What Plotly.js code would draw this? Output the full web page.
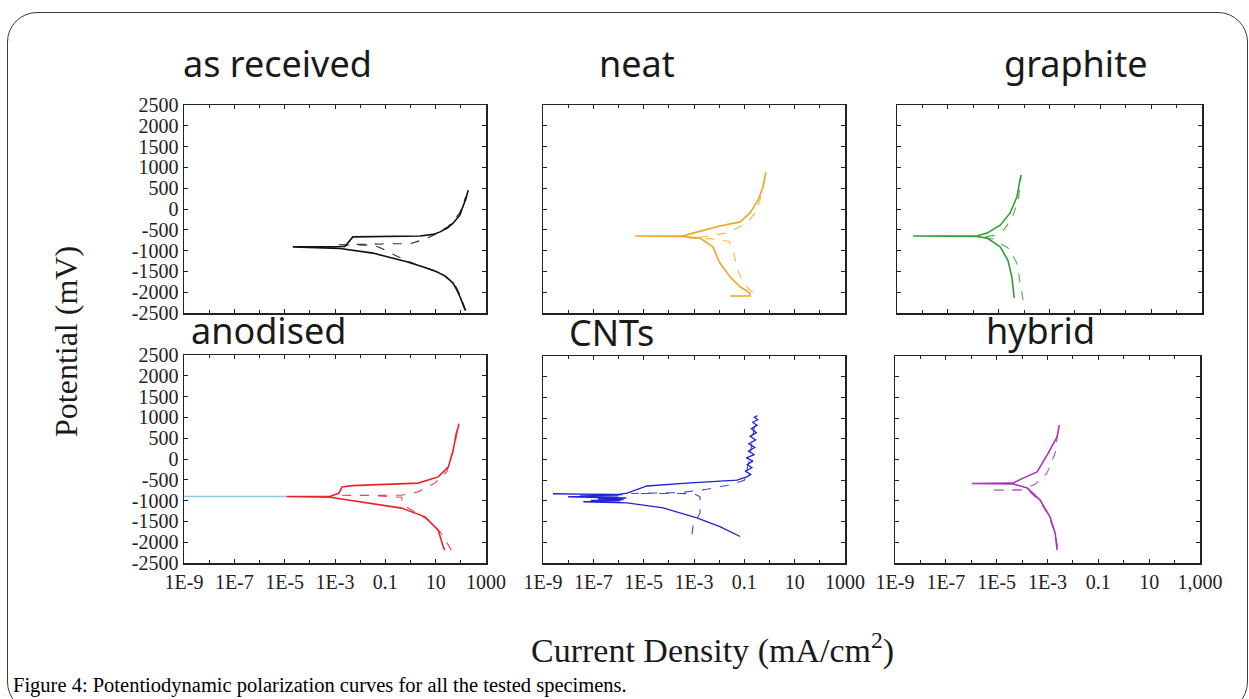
<!DOCTYPE html>
<html>
<head>
<meta charset="utf-8">
<script src="https://cdn.plot.ly/plotly-3.0.1.min.js"></script>
<style>
  html, body { margin: 0; padding: 0; background: #ffffff; overflow: hidden; }
  #frame { position: absolute; left: 7px; top: 12px; width: 1241px; height: 700px;
           box-sizing: border-box; border: 1.5px solid #3a3a3a; border-radius: 30px; }
  #chart { position: absolute; left: 0; top: 0; width: 1249px; height: 699px; }
</style>
</head>
<body>
<div id="frame"></div>
<div id="chart"></div>
<script>
// ---------------- data (current density in mA/cm^2, potential in mV) ----------------
const panelNames = ["as received", "neat", "graphite", "anodised", "CNTs", "hybrid"];
const panelColors = ["#111111", "#f4a32a", "#2f9e35", "#e8242a", "#1f22d8", "#a834b8"];

// as received
const asrecSolidX = [148, 120, 93, 70, 49, 25, 11, 3.5, 0.72, 0.032, 1.6e-3, 2.1e-5, 8e-4, 2.5e-3, 5.1e-3, 2.4, 8, 15, 30, 49, 90, 123, 160, 195];
const asrecSolidY = [-2430, -2280, -2110, -1950, -1780, -1620, -1510, -1400, -1270, -1060, -950, -910, -900, -900, -670, -650, -610, -550, -450, -340, -150, 50, 250, 450];
const asrecDashX = [158, 100, 56, 14, 1.6, 0.32, 0.063, 0.032, 1e-3, 0.032, 1, 4, 10, 32, 89, 158];
const asrecDashY = [-2450, -2100, -1800, -1520, -1330, -1150, -930, -870, -860, -850, -830, -720, -600, -420, -100, 300];

// neat
const neatSolidX = [0.027, 0.166, 0.166, 0.068, 0.027, 0.0107, 5.6e-3, 1.74e-3, 3.6e-4, 4.6e-6, 3.6e-4, 9.1e-4, 0.0107, 0.068, 0.166, 0.35, 0.55, 0.72];
const neatSolidY = [-2090, -2090, -2020, -1870, -1630, -1300, -910, -700, -660, -650, -650, -580, -410, -310, -100, 210, 530, 890];
const neatDashX = [0.22, 0.166, 0.079, 0.05, 0.035, 0.025, 6.3e-3, 6.3e-4, 1.74e-3, 0.02, 0.126, 0.32, 0.5, 0.71];
const neatDashY = [-1990, -1950, -1700, -1390, -985, -780, -720, -700, -680, -580, -340, -30, 400, 850];

// graphite
const graphSolidX = [4.1e-5, 3.3e-5, 2.3e-5, 1.15e-5, 3.5e-6, 1.4e-6, 4.3e-9, 1.4e-6, 3.5e-6, 1.15e-5, 2.8e-5, 5.2e-5, 6.9e-5, 7.6e-5];
const graphSolidY = [-2140, -1630, -1230, -910, -700, -660, -650, -650, -580, -390, -100, 290, 700, 820];
const graphDashX = [9.1e-5, 6.9e-5, 5.2e-5, 2.5e-5, 6.3e-6, 2e-6, 6.3e-6, 1.6e-5, 3.5e-5, 6e-5, 7.6e-5];
const graphDashY = [-2190, -1700, -1300, -950, -720, -680, -640, -500, -200, 250, 780];

// anodised
const anodBaseX = [1e-9, 1.17e-5];
const anodBaseY = [-900, -900];
const anodSolidX = [23, 20, 12.6, 3.8, 0.44, 4.7e-3, 6.3e-4, 1.17e-5, 6.3e-4, 1.45e-3, 1.9e-3, 4.7e-3, 2.0, 12.6, 32, 50, 66, 79, 83];
const anodSolidY = [-2190, -2110, -1710, -1390, -1180, -990, -920, -900, -900, -820, -670, -640, -580, -430, -190, 220, 620, 770, 850];
const anodDashX = [42, 16.6, 5.1, 1.26, 0.5, 0.44, 0.032, 1.26e-3, 0.44, 2.0, 9.3, 28, 56, 79];
const anodDashY = [-2190, -1780, -1470, -1250, -1100, -920, -880, -870, -870, -790, -580, -300, 300, 800];

// CNTs
const cntSolidX = [0.068, 0.0107, 1.3e-3, 5.9e-5, 2.2e-6, 4e-8, 1.2e-6, 8e-8, 1.6e-6, 1.5e-7, 2e-6, 1e-8, 1e-6, 3e-8, 1.4e-6, 2.5e-9, 1e-6, 2.2e-6, 1.35e-5, 5.2e-4, 0.051, 0.126, 0.18, 0.11, 0.2, 0.13, 0.22, 0.12, 0.25, 0.14, 0.26, 0.15, 0.28, 0.17, 0.3, 0.19, 0.32, 0.21, 0.35, 0.25, 0.33];
const cntSolidY = [-1860, -1620, -1410, -1170, -1050, -1020, -1000, -990, -970, -950, -930, -900, -880, -860, -850, -830, -840, -810, -640, -570, -500, -420, -360, -280, -200, -120, -40, 40, 120, 200, 290, 380, 470, 560, 650, 740, 830, 900, 960, 1020, 1060];
const cntDashX = [8.3e-4, 9.1e-4, 1.26e-3, 1.74e-3, 1.74e-3, 1e-3, 2.75e-4, 3.2e-6, 2.75e-4, 3.2e-3, 0.032, 0.1, 0.16, 0.25];
const cntDashY = [-1810, -1620, -1450, -1290, -900, -830, -820, -820, -800, -720, -600, -500, 0, 800];

// hybrid
const hybSolidX = [2.4e-3, 2e-3, 1.26e-3, 5.1e-4, 1.6e-4, 4.5e-5, 1.07e-6, 4.5e-5, 1.1e-4, 3.9e-4, 1.05e-3, 2.4e-3, 2.9e-3];
const hybSolidY = [-2190, -1780, -1390, -980, -690, -590, -580, -570, -450, -300, 150, 550, 830];
const hybDashX = [2.5e-3, 1.8e-3, 1.1e-3, 5e-4, 2e-4, 1.1e-4, 5.5e-6, 1.1e-4, 3.2e-4, 9.5e-4, 2e-3, 2.6e-3];
const hybDashY = [-2100, -1700, -1350, -1000, -780, -740, -740, -730, -600, -330, 150, 700];

// ticks
const xTickVals = [1e-9, 1e-7, 1e-5, 1e-3, 1e-1, 10, 1000];
const xTickText = ["1E-9", "1E-7", "1E-5", "1E-3", "0.1", "10", "1000"];
const xTickTextHybrid = ["1E-9", "1E-7", "1E-5", "1E-3", "0.1", "10", "1,000"];
const xMinorVals = [1e-8, 1e-6, 1e-4, 1e-2, 1, 100];
const yTickVals = [-2500, -2000, -1500, -1000, -500, 0, 500, 1000, 1500, 2000, 2500];
const yTickText = ["-2500", "-2000", "-1500", "-1000", "-500", "0", "500", "1000", "1500", "2000", "2500"];

const yTitle = "Potential (mV)";
const xTitle = "Current Density (mA/cm<sup>2</sup>)";
const caption = "Figure 4: Potentiodynamic polarization curves for all the tested specimens.";

// ---------------- layout geometry (pixels) ----------------
const W = 1249, H = 699;
const boxes = [
  [184, 486, 105, 313], [543, 845, 105, 313], [897, 1202, 105, 313],
  [184, 486, 355, 563], [543, 845, 356, 563], [895, 1200, 356, 563]
];
const titlePos = [[277, 63], [637, 63], [1075, 63], [268, 331], [611, 332], [1040, 331]];

const series = [
  [[asrecSolidX, asrecSolidY], [asrecDashX, asrecDashY]],
  [[neatSolidX, neatSolidY], [neatDashX, neatDashY]],
  [[graphSolidX, graphSolidY], [graphDashX, graphDashY]],
  [[anodSolidX, anodSolidY], [anodDashX, anodDashY]],
  [[cntSolidX, cntSolidY], [cntDashX, cntDashY]],
  [[hybSolidX, hybSolidY], [hybDashX, hybDashY]]
];

const traces = [];
const layout = {
  width: W, height: H,
  margin: {l: 0, r: 0, t: 0, b: 0},
  paper_bgcolor: "rgba(0,0,0,0)",
  plot_bgcolor: "#ffffff",
  showlegend: false,
  annotations: []
};

const tickFont = {family: "Liberation Serif, Times New Roman, serif", size: 20, color: "#222222"};

boxes.forEach((b, i) => {
  const n = i + 1;
  const xa = "x" + (n === 1 ? "" : n), ya = "y" + (n === 1 ? "" : n);
  const xk = "xaxis" + (n === 1 ? "" : n), yk = "yaxis" + (n === 1 ? "" : n);
  const bottomRow = i >= 3, leftCol = (i % 3) === 0;
  if (i === 3) {
    traces.push({x: anodBaseX, y: anodBaseY, xaxis: xa, yaxis: ya, type: "scatter", mode: "lines",
      line: {color: "#8fcbe8", width: 1.6}, hoverinfo: "skip"});
  }
  series[i].forEach((s, k) => {
    traces.push({x: s[0], y: s[1], xaxis: xa, yaxis: ya, type: "scatter", mode: "lines",
      line: {color: panelColors[i], width: k === 0 ? (i === 4 ? 1.3 : 1.6) : 1.1, dash: k === 0 ? "solid" : "dash"},
      opacity: k === 0 ? 1 : 0.85, hoverinfo: "skip"});
  });
  layout[xk] = {
    type: "log", range: [-9, 3], domain: [b[0] / W, b[1] / W], anchor: ya,
    showline: true, linecolor: "#222", linewidth: 1.5, mirror: "ticks",
    ticks: "inside", ticklen: 4, tickwidth: 1, tickcolor: "#222",
    tickmode: "array", tickvals: xTickVals, ticktext: i === 5 ? xTickTextHybrid : xTickText,
    minor: {tickmode: "array", tickvals: xMinorVals, ticks: "inside", ticklen: 3, tickcolor: "#222", showgrid: false},
    showticklabels: bottomRow, tickfont: tickFont, tickangle: 0,
    showgrid: false, zeroline: false, fixedrange: true
  };
  layout[yk] = {
    range: [-2500, 2500], domain: [1 - b[3] / H, 1 - b[2] / H], anchor: xa,
    showline: true, linecolor: "#222", linewidth: 1.5, mirror: "ticks",
    ticks: "inside", ticklen: 4, tickwidth: 1, tickcolor: "#222",
    tickmode: "array", tickvals: yTickVals, ticktext: yTickText,
    showticklabels: leftCol, tickfont: tickFont,
    showgrid: false, zeroline: false, fixedrange: true
  };
  layout.annotations.push({
    text: panelNames[i], xref: "paper", yref: "paper",
    x: titlePos[i][0] / W, y: 1 - titlePos[i][1] / H, xanchor: "center", yanchor: "middle",
    showarrow: false, font: {family: "Noto Sans, sans-serif", size: 36, color: "#1a1a1a"}
  });
});

layout.annotations.push({
  text: yTitle, xref: "paper", yref: "paper", x: 66 / W, y: 1 - 342 / H,
  xanchor: "center", yanchor: "middle", textangle: -90, showarrow: false,
  font: {family: "Liberation Serif, Times New Roman, serif", size: 32, color: "#1a1a1a"}
});
layout.annotations.push({
  text: xTitle, xref: "paper", yref: "paper", x: 712 / W, y: 1 - 648 / H,
  xanchor: "center", yanchor: "middle", showarrow: false,
  font: {family: "Liberation Serif, Times New Roman, serif", size: 34, color: "#1a1a1a"}
});
layout.annotations.push({
  text: caption, xref: "paper", yref: "paper", x: 11 / W, y: 1 - 685 / H,
  xanchor: "left", yanchor: "middle", showarrow: false,
  font: {family: "Liberation Serif, Times New Roman, serif", size: 20.5, color: "#000000"}
});

Plotly.newPlot("chart", traces, layout, {staticPlot: true, displayModeBar: false});
</script>
</body>
</html>
